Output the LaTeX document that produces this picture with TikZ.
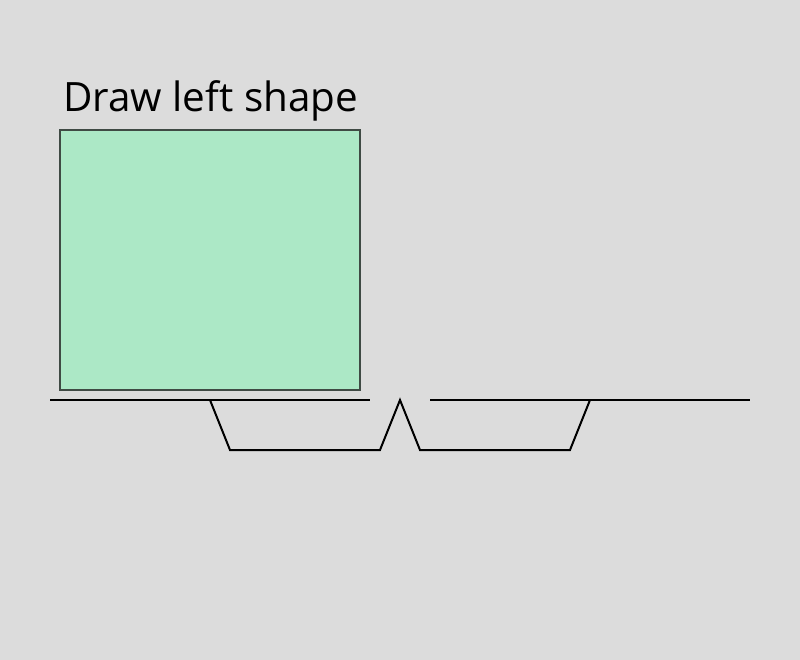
\documentclass[tikz,border=0pt]{standalone}
\usepackage{fontspec}
\setmainfont{Open Sans}
\definecolor{bgGray}{HTML}{DCDCDC}
\definecolor{shapeGreen}{HTML}{ACE8C6}
\definecolor{shapeEdge}{HTML}{3F4A44}
\tikzset{
	shapebox/.style={draw=shapeEdge, fill=shapeGreen, line width=1.5pt},
	outline/.style={black, line width=2pt},
}
\begin{document}
\begin{tikzpicture}[x=1pt,y=-1pt]
		\fill[bgGray] (0,0) rectangle (800,660);
		\useasboundingbox (0,0) rectangle (800,660);
		% title
		\node[anchor=base west, inner sep=0pt, font=\fontsize{40.4}{48}\selectfont] (title) at (63,112) {Draw left shape};
		% left shape
		\draw[shapebox] (60,130) rectangle (360,390);
		% base lines
		\draw[outline] (50,400) -- (370,400);
		\draw[outline] (430,400) -- (750,400);
		\draw[outline] (210,400) -- (230,450) -- (380,450) -- (400,400) -- (420,450) -- (570,450) -- (590,400);
	\end{tikzpicture}
\end{document}
